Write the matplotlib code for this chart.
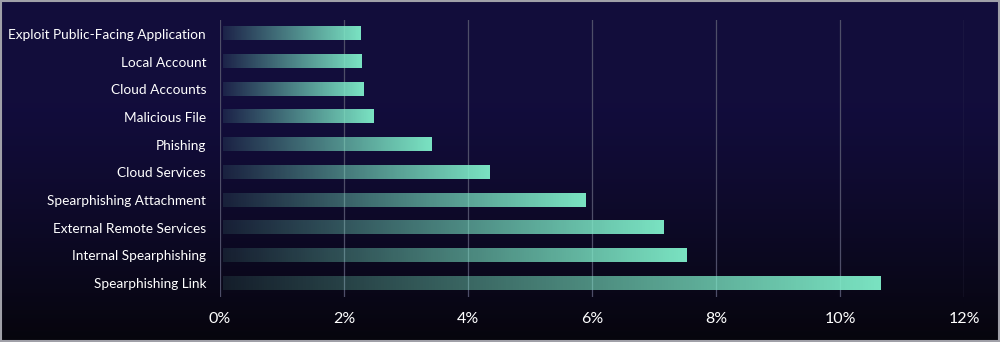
import matplotlib
matplotlib.use("Agg")
from matplotlib import pyplot as plt
from matplotlib.patches import Rectangle
import numpy as np

# technique share, top to bottom
techniques = ['Exploit Public-Facing Application', 'Local Account', 'Cloud Accounts',
              'Malicious File', 'Phishing', 'Cloud Services', 'Spearphishing Attachment',
              'External Remote Services', 'Internal Spearphishing', 'Spearphishing Link']
share = [2.27, 2.29, 2.31, 2.48, 3.42, 4.35, 5.89, 7.15, 7.52, 10.66]
xticks = [0, 2, 4, 6, 8, 10, 12]
xtick_labels = ['0%', '2%', '4%', '6%', '8%', '10%', '12%']

plt.rcParams['font.family'] = ['Lato', 'DejaVu Sans']

fig = plt.figure(figsize=(10, 3.42), dpi=100)

# background: indigo at the top, fading to near black at the bottom
bg = fig.add_axes([0, 0, 1, 1], zorder=0)
top = np.array([0.071, 0.051, 0.235])
bot = np.array([0.025, 0.02, 0.05])
t = np.linspace(0, 1, 256)[:, None]
t = np.clip((t - 0.3) / 0.7, 0, 1) ** 1.2
grad = top * (1 - t) + bot * t
bg.imshow(grad[:, None, :].repeat(2, axis=1), aspect='auto', extent=[0, 1, 0, 1])
bg.set_axis_off()
fig.add_artist(Rectangle((0.001, 0.002), 0.998, 0.995, transform=fig.transFigure,
                         fill=False, edgecolor='#a0a0a8', linewidth=1.5))

ax = fig.add_axes([0.22, 0.1316, 0.744, 0.81], zorder=1)
ax.patch.set_alpha(0)

mint = np.array([0.50, 0.93, 0.79])
h = 0.47
n = len(techniques)
for i, v in enumerate(share):
    y = n - 1 - i
    ramp = np.zeros((1, 256, 4))
    ramp[..., :3] = mint
    ramp[..., 3] = np.linspace(0.10, 0.96, 256)
    ax.imshow(ramp, aspect='auto', extent=[0.05, v, y - h / 2, y + h / 2], zorder=2)

ax.set_xlim(0, 12)
ax.set_ylim(-0.5, n - 0.5)
ax.set_yticks(range(n))
ax.set_yticklabels(techniques[::-1], color='white', fontsize=9.8)
ax.set_xticks(xticks)
ax.set_xticklabels(xtick_labels, color='white', fontsize=11.5)
ax.tick_params(axis='both', length=0)
ax.tick_params(axis='y', pad=10)
ax.tick_params(axis='x', pad=11)
ax.grid(axis='x', color='#4e4e68', linewidth=0.9, zorder=1)
ax.set_axisbelow(True)
for s in ax.spines.values():
    s.set_visible(False)

plt.savefig('out.png', dpi=100)
